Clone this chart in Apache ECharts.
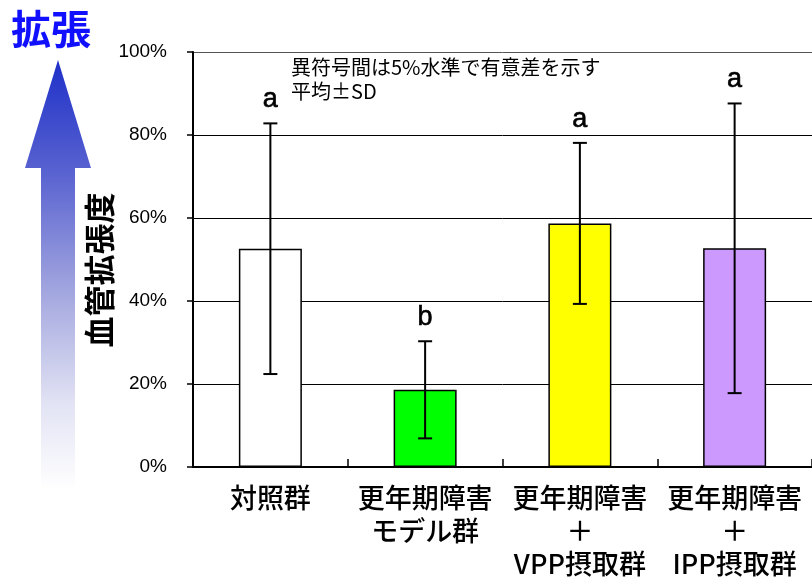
<!DOCTYPE html>
<html>
<head>
<meta charset="utf-8">
<script src="https://cdn.jsdelivr.net/npm/echarts@6/dist/echarts.min.js"></script>
<style>
  html, body { margin: 0; padding: 0; background: #fff; overflow: hidden; }
  #chart { width: 812px; height: 581px; }
</style>
</head>
<body>
<div id="chart"></div>
<script>
// Groups on the x axis
const categories = [
  '対照群',
  '更年期障害\nモデル群',
  '更年期障害\n＋\nVPP摂取群',
  '更年期障害\n＋\nIPP摂取群'
];
// Mean vasodilation (%) and standard deviation for each group
const means = [52.6, 18.6, 58.7, 52.7];
const sds = [30.2, 11.7, 19.4, 34.9];
// Significance letters shown above each error bar
const sigLetters = ['a', 'b', 'a', 'a'];
// Bar fill colours
const barColors = ['#ffffff', '#00ff00', '#ffff00', '#cc99ff'];
// Y-axis range and tick step (%)
const yMin = 0, yMax = 100, yStep = 20;

const cjk = '"Noto Sans CJK JP", "Noto Sans", sans-serif';
const latin = '"Liberation Sans", Arial, sans-serif';

const chart = echarts.init(document.getElementById('chart'), null, { renderer: 'canvas' });

const barData = means.map((m, i) => ({
  value: m,
  itemStyle: { color: barColors[i], borderColor: '#000', borderWidth: 1.5 }
}));
const errData = means.map((m, i) => [i, m - sds[i], m + sds[i], sigLetters[i]]);

chart.setOption({
  animation: false,
  backgroundColor: '#fff',
  grid: { left: 193, top: 52, width: 620, height: 415, containLabel: false },
  xAxis: {
    type: 'category',
    data: categories,
    boundaryGap: true,
    axisLine: { lineStyle: { color: '#000', width: 2 } },
    axisTick: { show: true, inside: true, length: 8, alignWithLabel: false, interval: 0,
                lineStyle: { color: '#000', width: 1.5 } },
    axisLabel: { interval: 0, margin: 14, color: '#000', fontFamily: cjk, fontSize: 27,
                 fontWeight: 500, lineHeight: 33 },
    splitLine: { show: false }
  },
  yAxis: {
    type: 'value',
    min: yMin, max: yMax, interval: yStep,
    axisLine: { show: true, lineStyle: { color: '#000', width: 2 } },
    axisTick: { show: true, inside: false, length: 6, lineStyle: { color: '#000', width: 1.5 } },
    axisLabel: { margin: 26, color: '#000', fontFamily: latin, fontSize: 19,
                 formatter: '{value}%' },
    splitLine: { show: true, lineStyle: { color: ['#000', '#000', '#000', '#000', '#000', '#555'], width: 1 } }
  },
  series: [
    {
      type: 'bar',
      data: barData,
      barWidth: 63,
      z: 2
    },
    {
      type: 'custom',
      data: errData,
      z: 5,
      renderItem: function (params, api) {
        const x = api.coord([api.value(0), 0])[0];
        const lo = api.coord([api.value(0), api.value(1)])[1];
        const hi = api.coord([api.value(0), api.value(2)])[1];
        const half = 7;
        const ls = { stroke: '#000', lineWidth: 2 };
        return {
          type: 'group',
          children: [
            { type: 'line', shape: { x1: x, y1: hi, x2: x, y2: lo }, style: ls },
            { type: 'line', shape: { x1: x - half, y1: hi, x2: x + half, y2: hi }, style: ls },
            { type: 'line', shape: { x1: x - half, y1: lo, x2: x + half, y2: lo }, style: ls },
            { type: 'text', x: x, y: hi - 10,
              style: { text: api.value(3), fill: '#000', font: '27px ' + latin,
                       textAlign: 'center', textVerticalAlign: 'bottom',
                       stroke: '#000', lineWidth: 0.6 } }
          ]
        };
      }
    }
  ],
  graphic: [
    {
      type: 'polygon',
      shape: { points: [[58, 60], [91, 168], [75, 168], [75, 490], [41, 490], [41, 168], [25, 168]] },
      style: {
        fill: new echarts.graphic.LinearGradient(0, 0, 0, 1, [
          { offset: 0, color: '#1f30c8' },
          { offset: 0.26, color: '#5862d0' },
          { offset: 0.56, color: '#a8abe0' },
          { offset: 0.8, color: '#e2e3f4' },
          { offset: 1, color: '#ffffff' }
        ])
      },
      z: 1
    },
    {
      type: 'text', x: 11, y: 29,
      style: { text: '拡張', fill: '#1010ff', font: 'bold 40px ' + cjk,
               textAlign: 'left', textVerticalAlign: 'middle' }
    },
    {
      type: 'text', x: 99, y: 270, rotation: Math.PI / 2,
      style: { text: '血管拡張度', fill: '#000', font: 'bold 31px ' + cjk,
               textAlign: 'center', textVerticalAlign: 'middle' }
    },
    {
      type: 'text', x: 291, y: 67,
      style: { text: '異符号間は5%水準で有意差を示す', fill: '#000', font: '20px ' + cjk,
               textAlign: 'left', textVerticalAlign: 'middle' }
    },
    {
      type: 'text', x: 291, y: 91,
      style: { text: '平均±SD', fill: '#000', font: '20px ' + cjk,
               textAlign: 'left', textVerticalAlign: 'middle' }
    }
  ]
});
</script>
</body>
</html>
